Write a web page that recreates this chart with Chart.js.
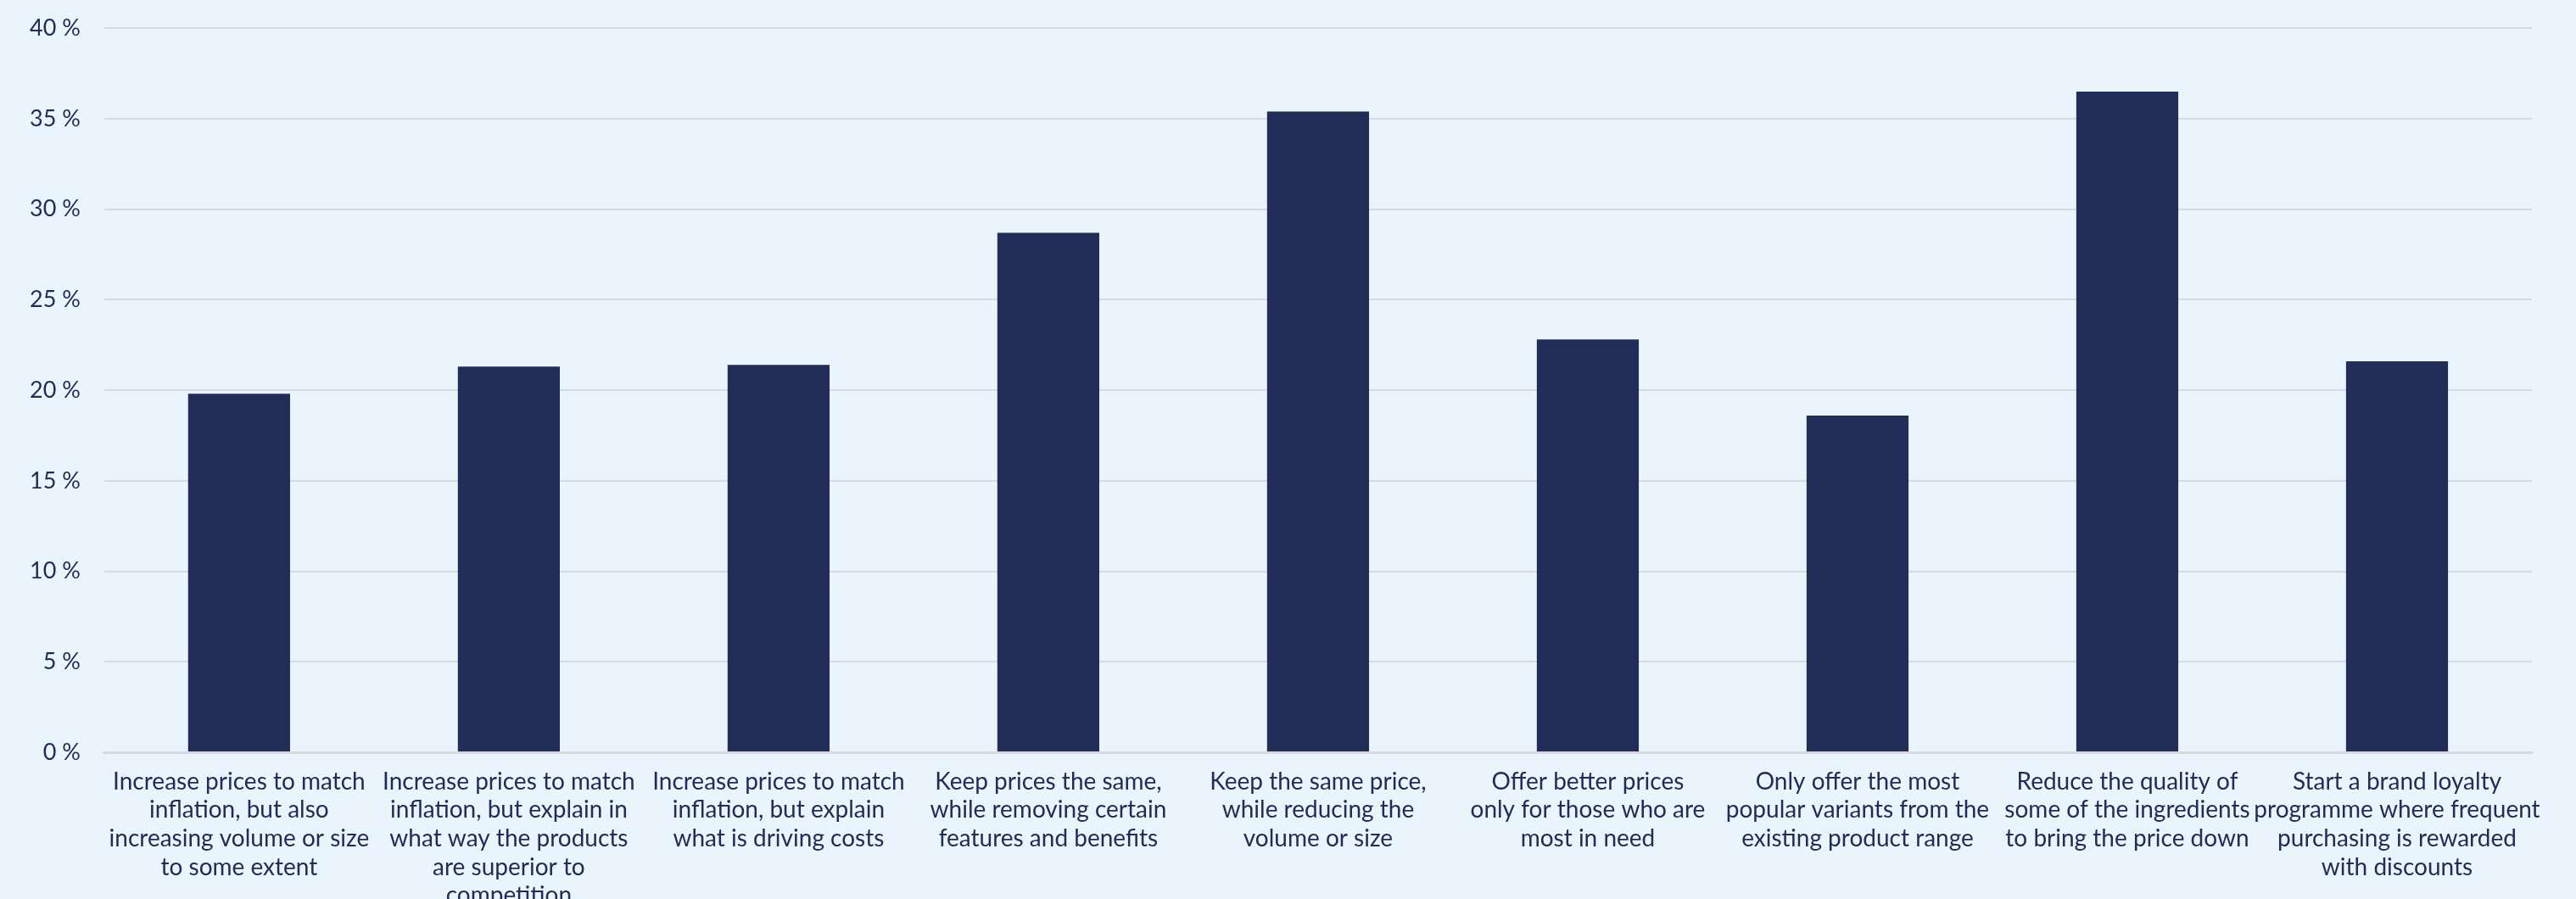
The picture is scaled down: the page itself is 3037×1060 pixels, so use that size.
<!DOCTYPE html>
<html>
<head>
<meta charset="utf-8">
<script src="https://cdn.jsdelivr.net/npm/chart.js@4.4.1/dist/chart.umd.min.js"></script>
<style>
  html, body { margin: 0; padding: 0; background: #eaf4fd; overflow: hidden; }
  #wrap { width: 3037px; height: 1094px; margin-top: -11px; }
</style>
</head>
<body>
<div id="wrap"><canvas id="myChart"></canvas></div>
<script>
// categories, wrapped the way they appear under the bars
const categories = [
    ['Increase prices to match', 'inflation, but also', 'increasing volume or size', 'to some extent'],
    ['Increase prices to match', 'inflation, but explain in', 'what way the products', 'are superior to', 'competition'],
    ['Increase prices to match', 'inflation, but explain', 'what is driving costs'],
    ['Keep prices the same,', 'while removing certain', 'features and benefits'],
    ['Keep the same price,', 'while reducing the', 'volume or size'],
    ['Offer better prices', 'only for those who are', 'most in need'],
    ['Only offer the most', 'popular variants from the', 'existing product range'],
    ['Reduce the quality of', 'some of the ingredients', 'to bring the price down'],
    ['Start a brand loyalty', 'programme where frequent', 'purchasing is rewarded', 'with discounts']
];

// share of respondents, in percent
const values = [19.8, 21.3, 21.4, 28.7, 35.4, 22.8, 18.6, 36.5, 21.6];

const yTicks = [0, 5, 10, 15, 20, 25, 30, 35, 40];

const textColor = '#222d57';
const gridColor = '#d6d9de';

var ctx = document.getElementById('myChart').getContext('2d');

var myChart = new Chart(ctx, {
    type: 'bar',
    data: {
        labels: categories,
        datasets: [
            {
                label: 'Share',
                data: values,
                backgroundColor: '#222d57',
                borderWidth: 0,
                barPercentage: 0.378,
                categoryPercentage: 1
            }
        ]
    },
    options: {
        responsive: true,
        maintainAspectRatio: false,
        animation: false,
        layout: {
            padding: { left: 7, right: 52, top: 0, bottom: 0 }
        },
        plugins: {
            legend: { display: false },
            tooltip: { enabled: false }
        },
        scales: {
            x: {
                grid: { display: false },
                border: { display: true, color: gridColor, width: 3 },
                ticks: {
                    color: textColor,
                    font: { family: 'Lato', size: 28 },
                    padding: 10,
                    maxRotation: 0,
                    autoSkip: false
                }
            },
            y: {
                min: 0,
                max: 40,
                afterBuildTicks: axis => {
                    axis.ticks = yTicks.map(v => ({ value: v }));
                },
                grid: { color: gridColor, lineWidth: 2, drawTicks: false },
                border: { display: false },
                ticks: {
                    color: textColor,
                    font: { family: 'Lato', size: 27 },
                    padding: 28,
                    callback: v => v + ' %'
                }
            }
        }
    }
});
</script>
</body>
</html>
